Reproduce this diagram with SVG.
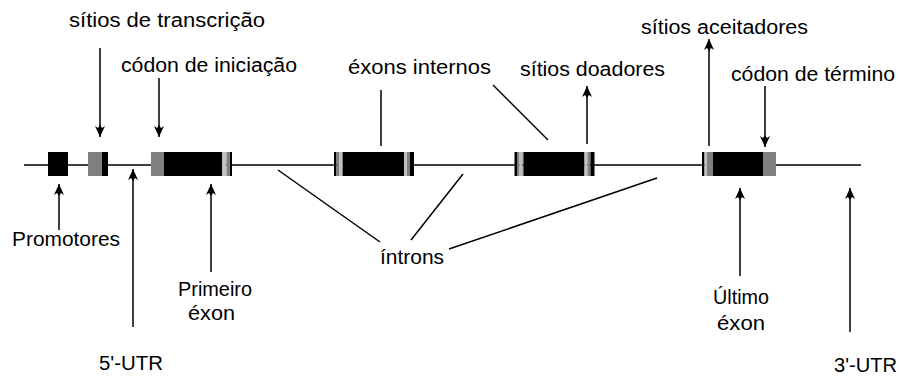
<svg xmlns="http://www.w3.org/2000/svg" width="899" height="376" viewBox="0 0 899 376">
<style>
.t{font-family:"Liberation Sans",Arial,sans-serif;font-size:20px;fill:#000}
.ln{stroke:#000;stroke-width:1.5;fill:none}
.ar{stroke:#000;stroke-width:1.5;fill:none;marker-end:url(#ah)}
.k{fill:#000}.g{fill:#808080}.l{fill:#c0c0c0}
</style>
<defs>
<marker id="ah" markerUnits="userSpaceOnUse" viewBox="0 0 12 12" refX="12" refY="6" markerWidth="12" markerHeight="12" orient="auto">
<path d="M12,6 L1,1 L3,4 L0,6 L3,8 L1,11 Z" fill="#000"/>
</marker>
</defs>
<g id="connectors">
<line class="ln" x1="24" y1="165" x2="861" y2="165"/>
<line class="ar" x1="100" y1="48" x2="100" y2="137"/>
<line class="ar" x1="159" y1="78" x2="159" y2="137"/>
<line class="ar" x1="59" y1="230" x2="59" y2="184"/>
<line class="ar" x1="133" y1="327" x2="133" y2="169"/>
<line class="ar" x1="211" y1="272" x2="211" y2="184"/>
<line class="ln" x1="381" y1="90" x2="381" y2="146"/>
<line class="ln" x1="493" y1="85" x2="548" y2="140"/>
<line class="ar" x1="587" y1="144" x2="587" y2="86"/>
<line class="ar" x1="709" y1="146" x2="709" y2="39"/>
<line class="ar" x1="765" y1="86" x2="765" y2="147"/>
<line class="ar" x1="740" y1="276" x2="740" y2="188"/>
<line class="ar" x1="850" y1="332" x2="850" y2="188"/>
<line class="ln" x1="278" y1="170" x2="380" y2="242"/>
<line class="ln" x1="463" y1="174" x2="411" y2="240"/>
<line class="ln" x1="657" y1="178" x2="449" y2="249"/>
</g>
<g id="promotor"><rect class="k" x="48" y="152" width="20" height="24"/></g>
<g id="sitio-transcricao"><rect class="g" x="88" y="152" width="14" height="24"/><rect class="k" x="102" y="152" width="6" height="24"/></g>
<g id="primeiro-exon">
<rect class="g" x="151" y="152" width="13" height="24"/><rect class="k" x="164" y="152" width="58" height="24"/>
<rect class="l" x="222" y="152" width="4.5" height="24"/><rect class="g" x="226.5" y="152" width="3.5" height="24"/><rect class="k" x="230" y="152" width="2" height="24"/>
</g>
<g id="exon-interno-1">
<rect class="k" x="334" y="152" width="2.5" height="24"/><rect class="g" x="336.5" y="152" width="2.5" height="24"/><rect class="l" x="339" y="152" width="3" height="24"/><rect class="g" x="342" y="152" width="1" height="24"/>
<rect class="k" x="343" y="152" width="61" height="24"/>
<rect class="l" x="404" y="152" width="3" height="24"/><rect class="g" x="407" y="152" width="3" height="24"/><rect class="k" x="410" y="152" width="4" height="24"/>
</g>
<g id="exon-interno-2">
<rect class="k" x="514.5" y="152" width="2.5" height="24"/><rect class="g" x="517" y="152" width="2.5" height="24"/><rect class="l" x="519.5" y="152" width="3" height="24"/><rect class="g" x="522.5" y="152" width="1" height="24"/>
<rect class="k" x="523.5" y="152" width="61" height="24"/>
<rect class="l" x="584.5" y="152" width="3" height="24"/><rect class="g" x="587.5" y="152" width="3" height="24"/><rect class="k" x="590.5" y="152" width="4" height="24"/>
</g>
<g id="ultimo-exon">
<rect class="k" x="702" y="152" width="2.5" height="24"/><rect class="l" x="704.5" y="152" width="2.5" height="24"/><rect class="g" x="707" y="152" width="6" height="24"/>
<rect class="k" x="713" y="152" width="50" height="24"/><rect class="g" x="763" y="152" width="13" height="24"/>
</g>
<g id="labels">
<text class="t" x="69" y="27" textLength="196" lengthAdjust="spacingAndGlyphs">sítios de transcrição</text>
<text class="t" x="121" y="72" textLength="176" lengthAdjust="spacingAndGlyphs">códon de iniciação</text>
<text class="t" x="348" y="74" textLength="143" lengthAdjust="spacingAndGlyphs">éxons internos</text>
<text class="t" x="520" y="76" textLength="145" lengthAdjust="spacingAndGlyphs">sítios doadores</text>
<text class="t" x="641" y="34" textLength="167" lengthAdjust="spacingAndGlyphs">sítios aceitadores</text>
<text class="t" x="731" y="81" textLength="164" lengthAdjust="spacingAndGlyphs">códon de término</text>
<text class="t" x="12" y="246" textLength="108" lengthAdjust="spacingAndGlyphs">Promotores</text>
<text class="t" x="178" y="296" textLength="74" lengthAdjust="spacingAndGlyphs">Primeiro</text>
<text class="t" x="188" y="320" textLength="47" lengthAdjust="spacingAndGlyphs">éxon</text>
<text class="t" x="99" y="370" textLength="64" lengthAdjust="spacingAndGlyphs">5'-UTR</text>
<text class="t" x="380" y="264" textLength="64" lengthAdjust="spacingAndGlyphs">íntrons</text>
<text class="t" x="713" y="304" textLength="56" lengthAdjust="spacingAndGlyphs">Último</text>
<text class="t" x="717" y="330" textLength="48" lengthAdjust="spacingAndGlyphs">éxon</text>
<text class="t" x="834" y="372" textLength="63" lengthAdjust="spacingAndGlyphs">3'-UTR</text>
</g>
</svg>
